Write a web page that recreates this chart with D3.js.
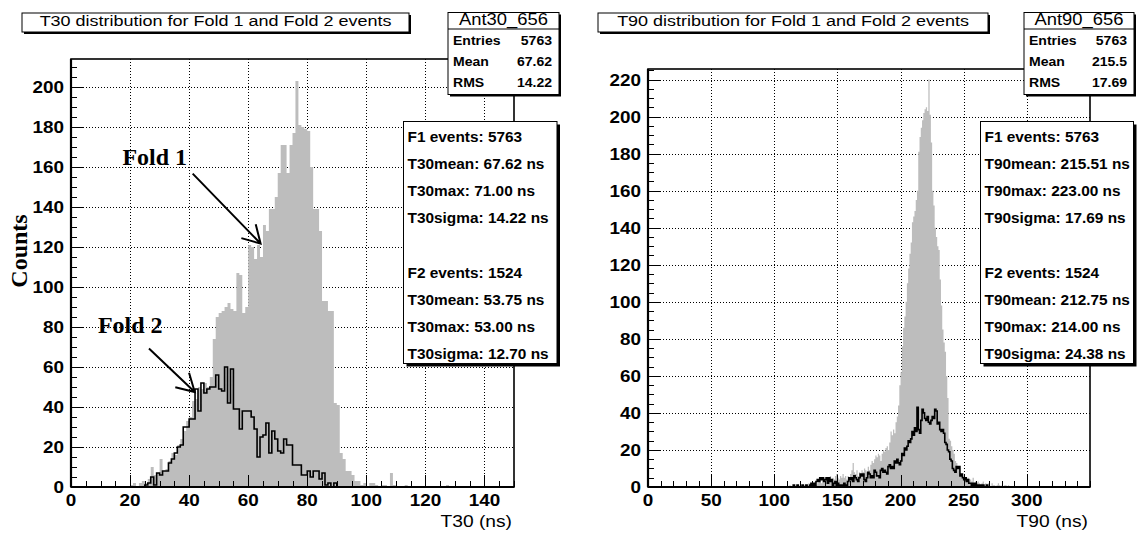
<!DOCTYPE html>
<html>
<head>
<meta charset="utf-8">
<script src="https://cdn.jsdelivr.net/npm/d3@7/dist/d3.min.js"></script>
<style>
  html, body { margin: 0; padding: 0; background: #fff; }
  svg { display: block; }
  text { font-family: "Liberation Sans", Arial, Helvetica, sans-serif; fill: #000; }
  .serif { font-family: "Liberation Serif", "Times New Roman", serif; font-weight: bold; }
</style>
</head>
<body>
<svg id="chart" width="1137" height="535"></svg>
<script>
// ---- T30 distribution: counts per 1 ns bin, first bin starts at the given edge ----
const t30Fold1Start = 20;
const t30Fold1 = [
  1, 2, 0, 2, 3, 2, 4, 10, 6, 7,
  14, 8, 9, 13, 17, 16, 21, 24, 28, 33,
  35, 43, 44, 50, 49, 52, 50, 55, 74, 85,
  87, 88, 90, 92, 89, 88, 107, 106, 87, 90,
  121, 120, 114, 121, 115, 131, 128, 139, 139, 145,
  157, 171, 171, 157, 171, 177, 203, 181, 180, 179,
  178, 160, 139, 139, 128, 93, 93, 88, 88, 42,
  41, 17, 14, 8, 8, 6, 3, 3, 1, 2,
  0, 2, 2, 1, 0, 1, 1, 0, 7, 1,
  0, 0, 0, 1, 0, 0, 0, 0, 0, 0,
  0, 0, 0, 0, 0, 0, 0, 1
];
const t30Fold2Start = 25;
const t30Fold2 = [
  1, 2, 5, 1, 7,
  6, 8, 8, 12, 14, 17, 20, 21, 30, 30,
  34, 34, 49, 38, 52, 47, 49, 50, 50, 56,
  49, 48, 60, 42, 59, 39, 39, 29, 38, 38,
  38, 35, 29, 15, 25, 26, 32, 17, 28, 24,
  18, 17, 24, 21, 21, 11, 11, 11, 6, 6,
  8, 5, 8, 8, 4, 7, 1, 2, 0, 2, 0
];

// ---- T90 distribution: counts per 1 ns bin ----
const t90Fold1Start = 110;
const t90Fold1 = [
  1, 0, 1, 0, 0, 1, 0, 1, 0, 1,
  0, 1, 0, 1, 1, 0, 1, 2, 1, 0,
  2, 1, 3, 1, 2, 3, 4, 2, 3, 4,
  2, 5, 3, 4, 6, 3, 5, 4, 6, 7,
  5, 4, 6, 5, 7, 5, 6, 4, 6, 5,
  7, 9, 13, 8, 7, 9, 6, 8, 7, 9,
  8, 10, 9, 8, 11, 9, 12, 14, 13, 15,
  17, 16, 18, 17, 14, 18, 20, 19, 21, 22,
  20, 24, 30, 28, 31, 29, 35, 38, 44, 55,
  62, 76, 86, 92, 100, 110, 118, 126, 132, 143,
  146, 149, 155, 160, 181, 189, 194, 198, 202, 204,
  205, 203, 220, 201, 186, 160, 152, 140, 135, 130,
  128, 112, 98, 85, 78, 73, 60, 48, 26, 25,
  22, 20, 18, 14, 13, 10, 9, 7, 7, 6,
  5, 5, 4, 5, 3, 4, 3, 5, 2, 3,
  2, 3, 2, 1, 2, 3, 1, 2, 1, 2,
  1, 0, 2, 1, 1, 0, 1, 2, 1, 0,
  1, 0, 1, 1, 0, 1
];
const t90Fold2Start = 115;
const t90Fold2 = [
  1, 0, 0, 1, 0,
  0, 0, 1, 0, 0, 1, 0, 0, 1, 2,
  1, 2, 1, 3, 4, 3, 5, 4, 5, 3,
  4, 5, 2, 5, 3, 4, 0, 2, 3, 1,
  2, 0, 1, 0, 1, 2, 0, 1, 3, 5,
  4, 5, 3, 6, 5, 4, 3, 5, 7, 6,
  7, 4, 3, 5, 8, 7, 5, 6, 5, 9,
  8, 6, 6, 5, 9, 10, 8, 9, 8, 7,
  11, 12, 10, 11, 10, 14, 13, 15, 13, 12,
  14, 18, 17, 21, 20, 22, 25, 24, 26, 30,
  28, 32, 30, 43, 31, 29, 36, 42, 40, 37,
  36, 38, 35, 34, 36, 38, 37, 42, 41, 34,
  35, 31, 30, 31, 29, 24, 23, 20, 19, 15,
  14, 10, 9, 8, 11, 10, 11, 6, 7, 5,
  4, 5, 3, 4, 2, 2, 1, 2, 1, 2,
  0, 1, 0, 1, 0, 1, 0, 0, 1
];

// ---- axis ticks and labels ----
const t30AxisTicks = [0, 20, 40, 60, 80, 100, 120, 140];
const t90AxisTicks = [0, 50, 100, 150, 200, 250, 300];
const t30CountTicks = [0, 20, 40, 60, 80, 100, 120, 140, 160, 180, 200];
const t90CountTicks = [0, 20, 40, 60, 80, 100, 120, 140, 160, 180, 200, 220];

// ---- text content ----
const t30Title = "T30 distribution for Fold 1 and Fold 2 events";
const t90Title = "T90 distribution for Fold 1 and Fold 2 events";
const t30StatsName = "Ant30_656";
const t90StatsName = "Ant90_656";
const statLabels = ["Entries", "Mean", "RMS"];
const t30StatValues = ["5763", "67.62", "14.22"];
const t90StatValues = ["5763", "215.5", "17.69"];
const t30Summary = ["F1 events: 5763", "T30mean: 67.62 ns", "T30max: 71.00 ns", "T30sigma: 14.22 ns", "",
                    "F2 events: 1524", "T30mean: 53.75 ns", "T30max: 53.00 ns", "T30sigma: 12.70 ns"];
const t90Summary = ["F1 events: 5763", "T90mean: 215.51 ns", "T90max: 223.00 ns", "T90sigma: 17.69 ns", "",
                    "F2 events: 1524", "T90mean: 212.75 ns", "T90max: 214.00 ns", "T90sigma: 24.38 ns"];

const svg = d3.select("#chart");
const GRAY = "#bdbdbd";

// text helper: Helvetica-like text, slightly widened
function txt(g, s, x, y, o = {}) {
  const sx = o.sx || 1;
  return g.append("text")
    .attr("transform", `translate(${x},${y}) scale(${sx},1)`)
    .attr("text-anchor", o.anchor || "start")
    .attr("font-size", o.size || 14)
    .attr("font-weight", o.weight || "normal")
    .attr("class", o.cls || null)
    .text(s);
}

// box with the dark drop shadow used by the pave texts
function pave(g, x0, y0, x1, y1, sh) {
  g.append("rect").attr("x", x0 + sh).attr("y", y0 + sh)
    .attr("width", x1 - x0).attr("height", y1 - y0).attr("fill", "#000");
  g.append("rect").attr("x", x0).attr("y", y0)
    .attr("width", x1 - x0).attr("height", y1 - y0)
    .attr("fill", "#fff").attr("stroke", "#000").attr("stroke-width", 1);
}

function histPoints(start, counts) {
  const pts = [[start, 0]];
  counts.forEach((c, i) => pts.push([start + i, c]));
  pts.push([start + counts.length, 0]);
  return pts;
}

function drawPanel(cfg) {
  const g = svg.append("g");
  const x = d3.scaleLinear().domain(cfg.xDomain).range([cfg.left, cfg.right]);
  const y = d3.scaleLinear().domain([0, cfg.yMax]).range([cfg.bottom, cfg.top]);
  const snap = v => Math.round(v) + 0.5;

  // dotted grid at the major ticks
  const grid = g.append("g").attr("stroke", "#000").attr("stroke-width", 1)
    .attr("stroke-dasharray", "1,2");
  grid.selectAll("line.gx").data(cfg.xTicks.filter(v => v > cfg.xDomain[0])).join("line")
    .attr("x1", d => snap(x(d))).attr("x2", d => snap(x(d)))
    .attr("y1", cfg.top).attr("y2", cfg.bottom);
  grid.selectAll("line.gy").data(cfg.yTicks.filter(v => v > 0)).join("line")
    .attr("x1", cfg.left).attr("x2", cfg.right)
    .attr("y1", d => snap(y(d))).attr("y2", d => snap(y(d)));

  // Fold 1 filled histogram
  const area = d3.area().curve(d3.curveStepAfter)
    .x(d => x(d[0])).y0(y(0)).y1(d => y(d[1]));
  g.append("path").datum(histPoints(cfg.f1Start, cfg.f1))
    .attr("d", area).attr("fill", GRAY).attr("stroke", "none");

  // Fold 2 outline histogram
  const line = d3.line().curve(d3.curveStepAfter)
    .x(d => x(d[0])).y(d => y(d[1]));
  g.append("path").datum(histPoints(cfg.f2Start, cfg.f2))
    .attr("d", line).attr("fill", "none").attr("stroke", "#000").attr("stroke-width", 1.6);

  // frame
  g.append("rect").attr("x", cfg.left).attr("y", cfg.top)
    .attr("width", cfg.right - cfg.left).attr("height", cfg.bottom - cfg.top)
    .attr("fill", "none").attr("stroke", "#000").attr("stroke-width", 1.6);
  g.append("line").attr("x1", cfg.left).attr("x2", cfg.right)
    .attr("y1", cfg.bottom).attr("y2", cfg.bottom).attr("stroke", "#000").attr("stroke-width", 2.2);
  g.append("line").attr("x1", cfg.left).attr("x2", cfg.left)
    .attr("y1", cfg.top).attr("y2", cfg.bottom).attr("stroke", "#000").attr("stroke-width", 2.2);

  // x ticks (pointing into the frame)
  const xMinor = d3.range(cfg.xDomain[0], cfg.xDomain[1] + 1e-9, cfg.xMinorStep);
  g.append("g").selectAll("line").data(xMinor).join("line")
    .attr("x1", d => snap(x(d))).attr("x2", d => snap(x(d)))
    .attr("y1", cfg.bottom)
    .attr("y2", d => cfg.bottom - (cfg.xTicks.includes(d) ? 12 : 6))
    .attr("stroke", "#000").attr("stroke-width", 1);
  // y ticks
  const yMinor = d3.range(0, cfg.yMax, cfg.yMinorStep);
  g.append("g").selectAll("line").data(yMinor).join("line")
    .attr("y1", d => snap(y(d))).attr("y2", d => snap(y(d)))
    .attr("x1", cfg.left)
    .attr("x2", d => cfg.left + (cfg.yTicks.includes(d) ? 12 : 6))
    .attr("stroke", "#000").attr("stroke-width", 1);

  // tick labels
  cfg.xTicks.forEach(v => txt(g, String(v), x(v), cfg.bottom + 19,
    { anchor: "middle", size: 16, weight: "bold", sx: 1.18 }));
  cfg.yTicks.forEach(v => txt(g, String(v), cfg.left - 7, y(v) + 6,
    { anchor: "end", size: 16, weight: "bold", sx: 1.18 }));

  // axis title
  txt(g, cfg.xTitle, cfg.right - 2, 527, { anchor: "end", size: 16, sx: 1.2 });

  // title pave
  const tb = cfg.titleBox;
  pave(g, tb[0], tb[1], tb[2], tb[3], 2);
  txt(g, cfg.title, (tb[0] + tb[2]) / 2, tb[1] + 12.5, { anchor: "middle", size: 15, sx: 1.2 });

  // statistics pave
  const sb = cfg.statsBox;
  pave(g, sb[0], sb[1], sb[2], sb[3], 2);
  g.append("line").attr("x1", sb[0]).attr("x2", sb[2]).attr("y1", sb[1] + 16.5).attr("y2", sb[1] + 16.5)
    .attr("stroke", "#000").attr("stroke-width", 1);
  txt(g, cfg.statsName, (sb[0] + sb[2]) / 2, sb[1] + 12, { anchor: "middle", size: 16, sx: 1.15 });
  statLabels.forEach((s, i) => {
    txt(g, s, sb[0] + 5, sb[1] + 32.3 + i * 21.3, { size: 13, weight: "bold", sx: 1.08 });
    txt(g, cfg.statValues[i], sb[2] - 7, sb[1] + 32.3 + i * 21.3, { anchor: "end", size: 13, weight: "bold", sx: 1.08 });
  });

  // summary pave
  const ib = cfg.infoBox;
  pave(g, ib[0], ib[1], ib[2], ib[3], 3);
  cfg.summary.forEach((s, i) => {
    if (s) txt(g, s, ib[0] + 4, ib[1] + 20 + i * 27.2, { size: 14, weight: "bold", sx: 1.1 });
  });

  return { g, x, y };
}

const left = drawPanel({
  left: 71, right: 514, top: 59, bottom: 487,
  xDomain: [0, 150], yMax: 214,
  xTicks: t30AxisTicks, yTicks: t30CountTicks, xMinorStep: 5, yMinorStep: 5,
  f1Start: t30Fold1Start, f1: t30Fold1, f2Start: t30Fold2Start, f2: t30Fold2,
  xTitle: "T30 (ns)", title: t30Title, titleBox: [22, 13, 409, 32],
  statsName: t30StatsName, statValues: t30StatValues, statsBox: [448, 12.5, 559, 94.5],
  summary: t30Summary, infoBox: [403.5, 121.5, 557, 363.5]
});

drawPanel({
  left: 648, right: 1090, top: 69, bottom: 487,
  xDomain: [0, 350], yMax: 225.7,
  xTicks: t90AxisTicks, yTicks: t90CountTicks, xMinorStep: 10, yMinorStep: 5,
  f1Start: t90Fold1Start, f1: t90Fold1, f2Start: t90Fold2Start, f2: t90Fold2,
  xTitle: "T90 (ns)", title: t90Title, titleBox: [598, 13, 988, 32],
  statsName: t90StatsName, statValues: t90StatValues, statsBox: [1024, 12.5, 1134, 94.5],
  summary: t90Summary, infoBox: [980.5, 121.5, 1133.5, 363.5]
});

// ---- annotations on the T30 panel (positions in data units: ns, counts) ----
const lx = left.x, ly = left.y, lg = left.g;
txt(lg, "Counts", 0, 0, { cls: "serif", size: 24, anchor: "middle" })
  .attr("transform", "translate(27,251) rotate(-90)");

function arrow(g, from, to) {
  const x0 = lx(from[0]), y0 = ly(from[1]), x1 = lx(to[0]), y1 = ly(to[1]);
  const a = Math.atan2(y0 - y1, x0 - x1), len = 20, spread = Math.PI / 6;
  const path = d3.path();
  path.moveTo(x0, y0); path.lineTo(x1, y1);
  path.moveTo(x1 + len * Math.cos(a - spread), y1 + len * Math.sin(a - spread));
  path.lineTo(x1, y1);
  path.lineTo(x1 + len * Math.cos(a + spread), y1 + len * Math.sin(a + spread));
  g.append("path").attr("d", path.toString()).attr("fill", "none")
    .attr("stroke", "#000").attr("stroke-width", 2);
}
txt(lg, "Fold 1", lx(17.4), ly(160.8), { cls: "serif", size: 24 });
arrow(lg, [41.2, 156.7], [64.2, 121.7]);
txt(lg, "Fold 2", lx(9.1), ly(76.8), { cls: "serif", size: 24 });
arrow(lg, [26.4, 69.2], [41.9, 47.5]);
</script>
</body>
</html>
